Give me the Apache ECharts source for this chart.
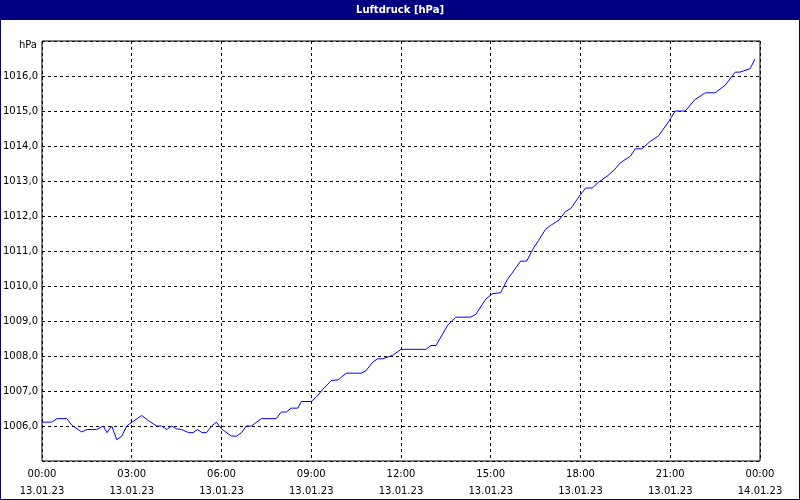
<!DOCTYPE html>
<html><head><meta charset="utf-8">
<script src="https://cdn.jsdelivr.net/npm/echarts@6/dist/echarts.min.js"></script>
<style>html,body{margin:0;padding:0;background:#fff}#c{width:800px;height:500px}</style>
</head><body><div id="c"></div>
<script>
const hours = [0,0.33,0.5,0.83,1,1.33,1.5,1.83,2.05,2.17,2.33,2.5,2.67,2.83,3.33,3.55,3.83,4,4.17,4.33,4.5,4.67,4.9,5.05,5.2,5.35,5.5,5.67,5.83,6,6.33,6.5,6.67,6.83,7,7.33,7.83,8,8.17,8.33,8.55,8.67,9,9.17,9.39,9.67,9.9,10.17,10.67,10.83,11.06,11.22,11.39,11.72,12,12.83,13,13.17,13.56,13.83,14.33,14.5,14.83,15.05,15.33,15.56,16,16.2,16.44,16.6,16.83,17,17.28,17.5,17.67,18,18.17,18.39,18.61,18.89,19.11,19.33,19.67,19.83,20.05,20.33,20.61,20.94,21.17,21.5,21.83,22.17,22.5,22.83,23.17,23.33,23.67,23.83];
const values = [1006.11,1006.11,1006.21,1006.21,1006.02,1005.83,1005.9,1005.9,1006.0,1005.81,1006.0,1005.61,1005.71,1006.0,1006.3,1006.16,1006.0,1006.0,1005.9,1006.0,1005.92,1005.9,1005.81,1005.81,1005.9,1005.81,1005.81,1006.0,1006.11,1005.92,1005.71,1005.71,1005.81,1006.0,1006.0,1006.21,1006.21,1006.4,1006.4,1006.51,1006.51,1006.7,1006.7,1006.83,1007.05,1007.3,1007.32,1007.51,1007.51,1007.58,1007.83,1007.92,1007.92,1008.02,1008.19,1008.19,1008.3,1008.3,1008.88,1009.11,1009.11,1009.19,1009.62,1009.78,1009.81,1010.19,1010.71,1010.71,1011.1,1011.3,1011.62,1011.73,1011.88,1012.13,1012.21,1012.61,1012.8,1012.8,1012.97,1013.14,1013.3,1013.52,1013.71,1013.92,1013.92,1014.13,1014.29,1014.69,1015.0,1015.0,1015.33,1015.52,1015.52,1015.73,1016.11,1016.11,1016.21,1016.48];
const xTicks = {0:'00:00\n13.01.23',3:'03:00\n13.01.23',6:'06:00\n13.01.23',9:'09:00\n13.01.23',12:'12:00\n13.01.23',15:'15:00\n13.01.23',18:'18:00\n13.01.23',21:'21:00\n13.01.23',24:'00:00\n14.01.23'};
const F = 'DejaVu Sans';
const chart = echarts.init(document.getElementById('c'));
chart.setOption({
  animation:false,
  backgroundColor:'#fff',
  graphic:[
    {type:'rect',shape:{x:0,y:0,width:800,height:20},style:{fill:'#000080'},z:10},
    {type:'rect',shape:{x:0.5,y:0.5,width:799,height:499},style:{fill:'none',stroke:'#000080',lineWidth:1},z:10},
    {type:'text',x:400,y:10,style:{text:'Luftdruck [hPa]',fill:'#fff',font:'bold 10px '+F,textAlign:'center',textVerticalAlign:'middle'},z:11},
    {type:'text',x:37,y:45,style:{text:'hPa',fill:'#000',font:'10px '+F,textAlign:'right',textVerticalAlign:'middle'},z:11}
  ],
  grid:{left:40,top:41,right:40,bottom:38,show:true,borderColor:'#000',borderWidth:1,backgroundColor:'#fff'},
  xAxis:{type:'value',min:0,max:24,interval:3,
    axisLine:{show:false},axisTick:{show:false},
    splitLine:{lineStyle:{color:'#000',type:[3,3],width:1}},
    axisLabel:{color:'#000',fontFamily:F,fontSize:10,lineHeight:17,margin:5,formatter:v=>xTicks[v]||''}},
  yAxis:{type:'value',min:1005,max:1017,interval:1,
    axisLine:{show:false},axisTick:{show:false},
    splitLine:{lineStyle:{color:'#000',type:[3,3],width:1}},
    axisLabel:{color:'#000',fontFamily:F,fontSize:10,margin:4,
      formatter:v=>(v<1005.5||v>1016.5)?'':v.toFixed(1).replace('.',',')}},
  series:[{type:'line',data:hours.map((h,i)=>[h,values[i]]),showSymbol:false,
    lineStyle:{color:'#0000ff',width:1},itemStyle:{color:'#0000ff'}}]
});
</script></body></html>
